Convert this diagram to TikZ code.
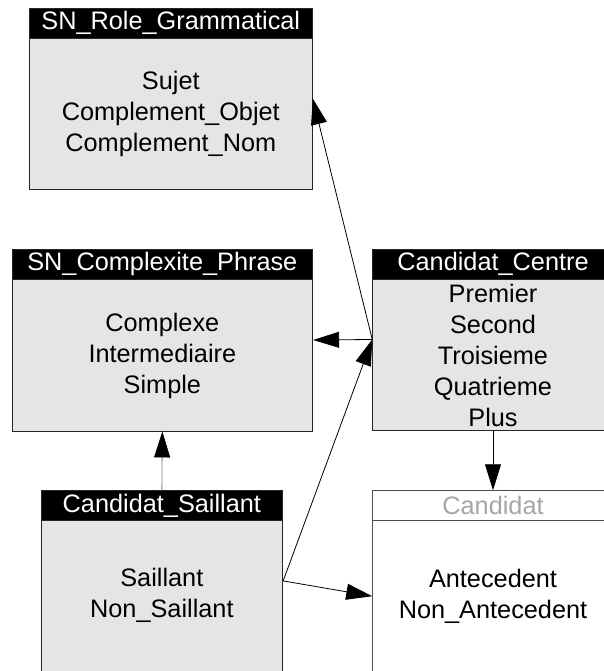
\documentclass[tikz,border=0pt]{standalone}
\usepackage{fontspec}
\setmainfont{Liberation Sans}
\usetikzlibrary{arrows.meta,positioning}

\tikzset{
  classe/.style={draw=black!85, fill=black!10, line width=0.9pt, inner sep=0pt},
  entete/.style={draw=black!85, fill=black, text=white, line width=0.9pt, inner sep=0pt,
    minimum height=30pt, anchor=north},
  valeurs/.style={align=center, inner sep=0pt},
  fleche/.style={-{Triangle[length=26pt,width=16pt,color=black]}, line width=0.8pt}
}

\begin{document}
\begin{tikzpicture}[x=1pt,y=-1pt,font=\fontsize{25.3}{31}\selectfont]
\useasboundingbox (0,0) rectangle (604,671);
\clip (0,0) rectangle (604,671);
% the classes
\node[classe, minimum width=283pt, minimum height=181pt]   (role)  at (170.8,98.5) {};
\node[entete, minimum width=283pt]   (role-h)  at (role.north) {SN\_Role\_Grammatical};
\node[valeurs] (role-v) at (170.8,113.5) {Sujet\\Complement\_Objet\\Complement\_Nom};

\node[classe, minimum width=300.7pt, minimum height=182pt] (cplx)  at (162.35,340) {};
\node[entete, minimum width=300.7pt] (cplx-h)  at (cplx.north) {SN\_Complexite\_Phrase};
\node[valeurs] (cplx-v) at (162.35,355.5) {Complexe\\Intermediaire\\Simple};

\node[classe, minimum width=240.6pt, minimum height=181pt] (centre) at (493,339.5) {};
\node[entete, minimum width=240.6pt] (centre-h) at (centre.north) {Candidat\_Centre};
\node[valeurs] (centre-v) at (493,355) {Premier\\Second\\Troisieme\\Quatrieme\\Plus};

\node[classe, minimum width=241.7pt, minimum height=180.3pt] (sail) at (161.85,580.9) {};
\node[entete, minimum width=241.7pt] (sail-h) at (sail.north) {Candidat\_Saillant};
\node[valeurs] (sail-v) at (161.85,595.8) {Saillant\\Non\_Saillant};

\node[classe, fill=white, draw=black!70, minimum width=240.6pt, minimum height=181pt] (cand) at (493,581.2) {};
\node[entete, fill=white, draw=black!70, text=black!35, minimum width=240.6pt] (cand-h) at (cand.north) {Candidat};
\node[valeurs] (cand-v) at (493,596) {Antecedent\\Non\_Antecedent};
\coordinate (cand-in) at ([yshift=-15pt]cand.west);

% the links
\path[fleche]
      (centre.west) edge (role.east)
      (centre.west) edge (cplx.east)
      (sail.east)   edge (centre.west)
      (sail.east)   edge (cand-in)
      (centre.south) edge (cand.north)
      (sail.north)  edge[draw=black!50] (cplx.south);
\end{tikzpicture}
\end{document}
